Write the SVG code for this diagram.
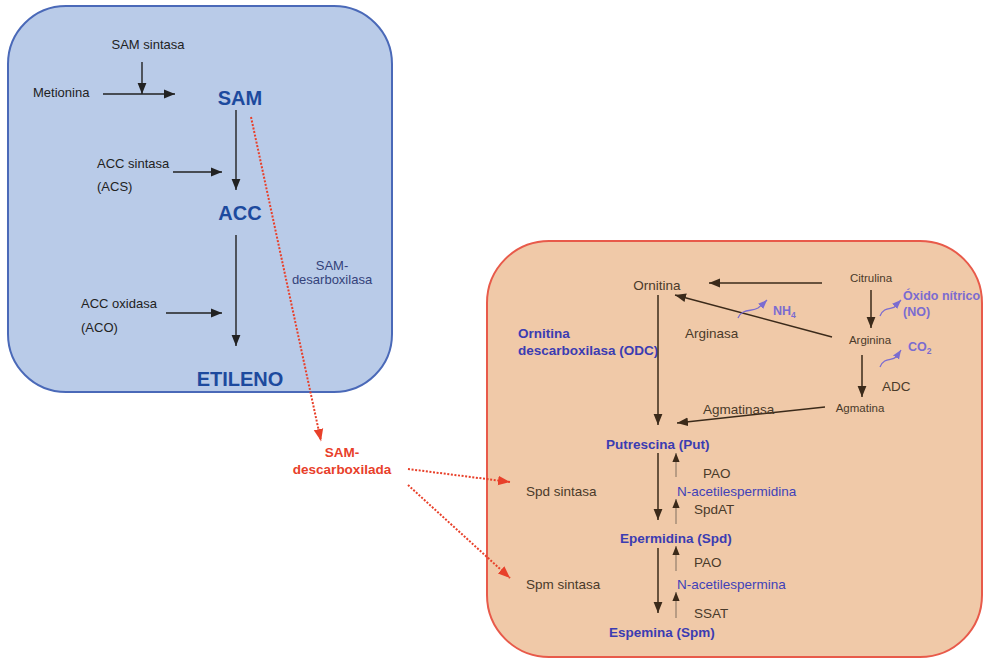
<svg xmlns="http://www.w3.org/2000/svg" width="984" height="660" viewBox="0 0 984 660">
<defs>
<style>
text{font-family:"Liberation Sans",Arial,sans-serif}
.k{font-size:13px;fill:#222}
.big{font-size:20px;font-weight:bold;fill:#1d4a9e}
.nv{font-size:13px;fill:#34427a}
.red{font-size:13.5px;font-weight:bold;fill:#e8402a}
.br{font-size:13.5px;fill:#4a3a2a}
.brs{font-size:11.5px;fill:#4a3a2a}
.bb{font-size:13.5px;font-weight:bold;fill:#3b3cb2}
.bn{font-size:13.5px;fill:#3f42b8}
.pu{font-size:12.5px;font-weight:bold;fill:#7b6cd0}
.ab{stroke:#222;stroke-width:1.4;fill:none}
.rd{stroke:#e8402a;stroke-width:2;stroke-dasharray:2 1.6;fill:none}
.bw{stroke:#3b2a1a;stroke-width:1.5;fill:none}
.up{stroke:#9a8470;stroke-width:1.3;fill:none}
.cv{stroke:#7b6cd0;stroke-width:1.3;fill:none}
</style>
<marker id="mk" viewBox="0 0 10 10" refX="10" refY="5" markerWidth="11" markerHeight="11" markerUnits="userSpaceOnUse" orient="auto"><path d="M0,1 L10,5 L0,9 z" fill="#222"/></marker>
<marker id="mr" viewBox="0 0 10 10" refX="10" refY="5" markerWidth="12" markerHeight="12" markerUnits="userSpaceOnUse" orient="auto"><path d="M0,1 L10,5 L0,9 z" fill="#e8402a"/></marker>
<marker id="mb" viewBox="0 0 10 10" refX="10" refY="5" markerWidth="11" markerHeight="11" markerUnits="userSpaceOnUse" orient="auto"><path d="M0,1 L10,5 L0,9 z" fill="#3b2a1a"/></marker>
<marker id="ms" viewBox="0 0 10 10" refX="10" refY="5" markerWidth="9" markerHeight="9" markerUnits="userSpaceOnUse" orient="auto"><path d="M0,1 L10,5 L0,9 z" fill="#3b2a1a"/></marker>
<marker id="mp" viewBox="0 0 10 10" refX="10" refY="5" markerWidth="9" markerHeight="9" markerUnits="userSpaceOnUse" orient="auto"><path d="M0,1 L10,5 L0,9 z" fill="#7b6cd0"/></marker>
</defs>
<rect width="984" height="660" fill="#fff"/>
<g id="etileno-box">
<rect x="8" y="6" width="384" height="386" rx="58" ry="58" fill="#b9cbe8" stroke="#4a69b8" stroke-width="2"/>
</g>
<g id="poliaminas-box">
<rect x="487" y="241" width="495" height="416" rx="62" ry="62" fill="#f0c9a8" stroke="#e85a4a" stroke-width="2"/>
</g>
<g id="connectors">
<path class="ab" d="M103,94 H175" marker-end="url(#mk)"/>
<path class="ab" d="M142,62 V94" marker-end="url(#mk)"/>
<path class="ab" d="M236,110 V190" marker-end="url(#mk)"/>
<path class="ab" d="M173,172 H222" marker-end="url(#mk)"/>
<path class="ab" d="M236,235 V346" marker-end="url(#mk)"/>
<path class="ab" d="M166,313 H222" marker-end="url(#mk)"/>
<path class="rd" d="M251,117 L321,441" marker-end="url(#mr)"/>
<path class="rd" d="M408,469 L510,482" marker-end="url(#mr)"/>
<path class="rd" d="M408,485 L510,578" marker-end="url(#mr)"/>
<path class="bw" d="M822,283 H709" marker-end="url(#mb)"/>
<path class="bw" d="M871,290 V328" marker-end="url(#mb)"/>
<path class="bw" d="M832,337 L675,295" marker-end="url(#mb)"/>
<path class="bw" d="M862,355 V397" marker-end="url(#mb)"/>
<path class="bw" d="M825,407 L677,423" marker-end="url(#mb)"/>
<path class="bw" d="M658,295 V425" marker-end="url(#mb)"/>
<path class="bw" d="M658,453 V520" marker-end="url(#mb)"/>
<path class="bw" d="M658,548 V613" marker-end="url(#mb)"/>
<path class="up" d="M676,477 V453" marker-end="url(#ms)"/>
<path class="up" d="M676,524 V499" marker-end="url(#ms)"/>
<path class="up" d="M676,571 V546" marker-end="url(#ms)"/>
<path class="up" d="M676,618 V592" marker-end="url(#ms)"/>
<path class="cv" d="M738,318 C742,308 752,312 758,308 C762,305 764,303 767,300" marker-end="url(#mp)"/>
<path class="cv" d="M880,316 C884,306 892,310 896,306 C898,304 899,302 901,300" marker-end="url(#mp)"/>
<path class="cv" d="M880,367 C884,357 892,361 896,357 C898,355 899,353 901,350" marker-end="url(#mp)"/>
</g>
<g id="n-sam-sintasa"><text class="k" x="148" y="49" text-anchor="middle">SAM sintasa</text></g>
<g id="n-metionina"><text class="k" x="33" y="97">Metionina</text></g>
<g id="n-sam"><text class="big" x="240" y="105" text-anchor="middle">SAM</text></g>
<g id="n-acs"><text class="k" x="97" y="168">ACC sintasa</text><text class="k" x="97" y="191">(ACS)</text></g>
<g id="n-acc"><text class="big" x="240" y="220" text-anchor="middle">ACC</text></g>
<g id="n-aco"><text class="k" x="81" y="308">ACC oxidasa</text><text class="k" x="81" y="332">(ACO)</text></g>
<g id="n-etileno"><text class="big" x="240" y="386" text-anchor="middle" font-size="20.5">ETILENO</text></g>
<g id="n-samdc"><text class="nv" x="332" y="270" text-anchor="middle">SAM-</text><text class="nv" x="332" y="284" text-anchor="middle">desarboxilasa</text></g>
<g id="n-dcsam"><text class="red" x="342" y="457" text-anchor="middle">SAM-</text><text class="red" x="342" y="474" text-anchor="middle">descarboxilada</text></g>
<g id="n-ornitina"><text class="br" x="657" y="290" text-anchor="middle">Ornitina</text></g>
<g id="n-citrulina"><text class="brs" x="871" y="282" text-anchor="middle">Citrulina</text></g>
<g id="n-arginina"><text class="brs" x="870" y="344" text-anchor="middle">Arginina</text></g>
<g id="n-agmatina"><text class="brs" x="860" y="412" text-anchor="middle">Agmatina</text></g>
<g id="n-arginasa"><text class="br" x="685" y="338">Arginasa</text></g>
<g id="n-agmatinasa"><text class="br" x="703" y="414">Agmatinasa</text></g>
<g id="n-adc"><text class="br" x="882" y="391">ADC</text></g>
<g id="n-nh4"><text class="pu" x="773" y="315">NH<tspan font-size="8.5" dy="3">4</tspan></text></g>
<g id="n-no"><text class="pu" x="903" y="300">Óxido nítrico</text><text class="pu" x="903" y="316">(NO)</text></g>
<g id="n-co2"><text class="pu" x="908" y="351">CO<tspan font-size="8.5" dy="3">2</tspan></text></g>
<g id="n-odc"><text class="bb" x="518" y="338">Ornitina</text><text class="bb" x="518" y="355">descarboxilasa (ODC)</text></g>
<g id="n-put"><text class="bb" x="606" y="449">Putrescina (Put)</text></g>
<g id="n-pao1"><text class="br" x="703" y="478">PAO</text></g>
<g id="n-nacspd"><text class="bn" x="677" y="496">N-acetilespermidina</text></g>
<g id="n-spdsint"><text class="br" x="526" y="496">Spd sintasa</text></g>
<g id="n-spdat"><text class="br" x="694" y="514">SpdAT</text></g>
<g id="n-spd"><text class="bb" x="620" y="543">Epermidina (Spd)</text></g>
<g id="n-pao2"><text class="br" x="694" y="567">PAO</text></g>
<g id="n-nacspm"><text class="bn" x="677" y="589">N-acetilespermina</text></g>
<g id="n-spmsint"><text class="br" x="526" y="589">Spm sintasa</text></g>
<g id="n-ssat"><text class="br" x="694" y="618">SSAT</text></g>
<g id="n-spm"><text class="bb" x="609" y="637">Espemina (Spm)</text></g>
</svg>
